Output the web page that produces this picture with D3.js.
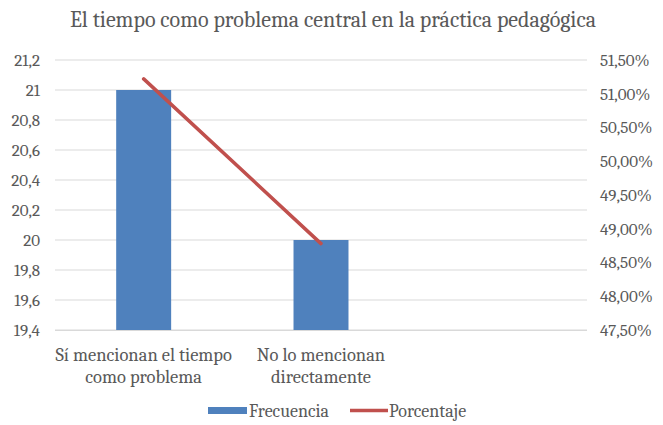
<!DOCTYPE html>
<html><head><meta charset="utf-8">
<script src="https://cdn.jsdelivr.net/npm/d3@7"></script>
<style>body{margin:0;background:#fff}</style>
</head><body><svg id="c" width="663" height="425"></svg>
<script>
const title = "El tiempo como problema central en la práctica pedagógica";
const categories = [["Sí mencionan el tiempo","como problema"],["No lo mencionan","directamente"],[""]];
const frecuencia = [21, 20];
const porcentaje = [0.5122, 0.4878];
const leftTicks = [19.4,19.6,19.8,20,20.2,20.4,20.6,20.8,21,21.2];
const rightTicks = [0.475,0.48,0.485,0.49,0.495,0.50,0.505,0.51,0.515];
const seriesNames = ["Frecuencia","Porcentaje"];

const svg = d3.select("#c");
const font = "Cambria, 'Liberation Serif', serif";
const txt = "#595959";
const m = {l:55, r:587, t:60, b:330};

const x = d3.scaleBand().domain(d3.range(categories.length)).range([m.l, m.r]).paddingInner(0.69).paddingOuter(0.345);
const yL = d3.scaleLinear().domain([19.4, 21.2]).range([m.b, m.t]);
const yR = d3.scaleLinear().domain([0.475, 0.515]).range([m.b, m.t]);

svg.append("text").attr("x", 333).attr("y", 27).attr("text-anchor","middle")
  .style("font-family", font).style("font-size", "22px").attr("fill", txt).text(title);

svg.append("g").selectAll("line").data(leftTicks).join("line")
  .attr("x1", m.l).attr("x2", m.r).attr("y1", d=>yL(d)).attr("y2", d=>yL(d))
  .attr("stroke", "#d9d9d9").attr("stroke-width", 1);

const fmtL = d => d3.format("~g")(+d.toFixed(1)).replace(".", ",");
const fmtR = d => d3.format(".2f")(d*100).replace(".", ",") + "%";

const axL = svg.append("g").attr("transform", `translate(${m.l - 15},0)`)
  .call(d3.axisLeft(yL).tickValues(leftTicks).tickFormat(fmtL).tickSize(0).tickPadding(0));
axL.select(".domain").remove();
axL.selectAll("text").style("font-family", font).style("font-size", "17px").attr("fill", txt);

const axR = svg.append("g").attr("transform", `translate(${m.r + 13},0)`)
  .call(d3.axisRight(yR).tickValues(rightTicks).tickFormat(fmtR).tickSize(0).tickPadding(0));
axR.select(".domain").remove();
axR.selectAll("text").style("font-family", font).style("font-size", "17px").attr("fill", txt);

svg.append("g").selectAll("rect").data(frecuencia).join("rect")
  .attr("x", (d,i)=>x(i)).attr("width", x.bandwidth())
  .attr("y", d=>yL(d)).attr("height", d=>yL(19.4)-yL(d)).attr("fill", "#4f81bd");

svg.append("line").attr("x1", m.l).attr("x2", m.r).attr("y1", m.b+0.5).attr("y2", m.b+0.5).attr("stroke", "#d9d9d9");

svg.append("path").datum(porcentaje)
  .attr("d", d3.line().x((d,i)=>x(i)+x.bandwidth()/2).y(d=>yR(d)))
  .attr("fill","none").attr("stroke","#c0504d").attr("stroke-width",3.5).attr("stroke-linecap","round");

const cl = svg.append("g");
categories.forEach((lines, i) => {
  const t = cl.append("text").attr("text-anchor","middle").style("font-family", font)
    .style("font-size", "18.5px").attr("fill", txt);
  lines.forEach((s, j) => t.append("tspan").attr("x", x(i)+x.bandwidth()/2).attr("y", 361 + j*22).text(s));
});

const lg = svg.append("g");
lg.append("rect").attr("x", 208).attr("y", 407).attr("width", 39).attr("height", 7).attr("fill", "#4f81bd");
lg.append("text").attr("x", 249).attr("y", 417).style("font-family", font).style("font-size", "18px").attr("fill", txt).text(seriesNames[0]);
lg.append("line").attr("x1", 350).attr("x2", 388).attr("y1", 410.5).attr("y2", 410.5).attr("stroke", "#c0504d").attr("stroke-width", 3.5);
lg.append("text").attr("x", 389).attr("y", 417).style("font-family", font).style("font-size", "18px").attr("fill", txt).text(seriesNames[1]);
</script></body></html>
